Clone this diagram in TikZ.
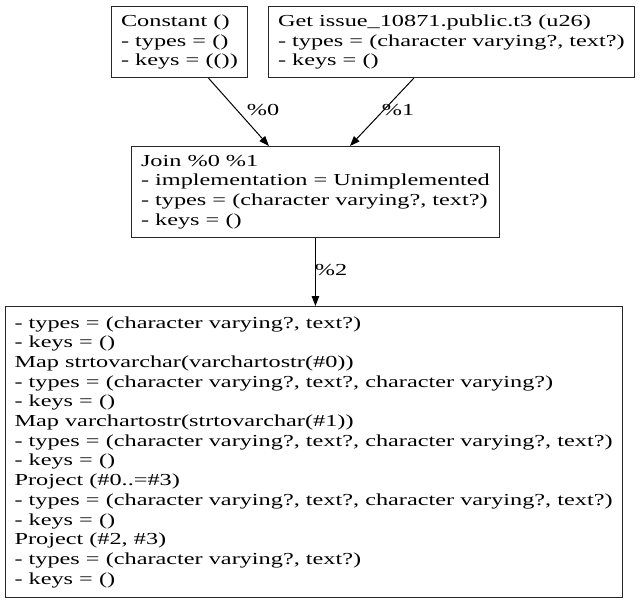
\documentclass[tikz,border=0pt]{standalone}
\usepackage{fontspec}
\setmainfont{Liberation Serif}[FakeStretch=1.445]
\usetikzlibrary{arrows.meta}
\begin{document}
\begin{tikzpicture}[x=1pt,y=-1pt,
  txt/.style={font=\fontsize{16.8pt}{19.7pt}\selectfont},
  box/.style={txt, draw=black!85, line width=1.1pt, align=left, anchor=north west, inner xsep=9.5pt, inner ysep=0pt},
  edge/.style={draw=black, line width=1pt, -{Triangle[length=10pt,width=7.5pt]}},
  lbl/.style={txt, inner sep=0pt}]
\useasboundingbox (0,0) rectangle (641,603);
\node[box, minimum height=71pt] (const) at (111,6) {Constant ()\\- types = ()\\- keys = (())};
\node[box, minimum height=71pt] (get) at (268,6) {Get issue\_10871.public.t3 (u26)\\- types = (character varying?, text?)\\- keys = ()};
\node[box, minimum height=91pt] (join) at (131,146) {Join \%0 \%1\\- implementation = Unimplemented\\- types = (character varying?, text?)\\- keys = ()};
\node[box, minimum height=291pt] (out) at (4.5,306) {- types = (character varying?, text?)\\- keys = ()\\Map strtovarchar(varchartostr(\#0))\\- types = (character varying?, text?, character varying?)\\- keys = ()\\Map varchartostr(strtovarchar(\#1))\\- types = (character varying?, text?, character varying?, text?)\\- keys = ()\\Project (\#0..=\#3)\\- types = (character varying?, text?, character varying?, text?)\\- keys = ()\\Project (\#2, \#3)\\- types = (character varying?, text?)\\- keys = ()};
\draw[edge] ([xshift=29pt]const.south) -- ([xshift=-46.5pt]join.north);
\draw[edge] ([xshift=-37.5pt]get.south) -- ([xshift=34.5pt]join.north);
\draw[edge] (join.south) -- (join.south |- out.north);
\node[lbl] (l0) at (263,110) {\%0};
\node[lbl] (l1) at (398,110) {\%1};
\node[lbl] (l2) at (331,270) {\%2};
\end{tikzpicture}
\end{document}
